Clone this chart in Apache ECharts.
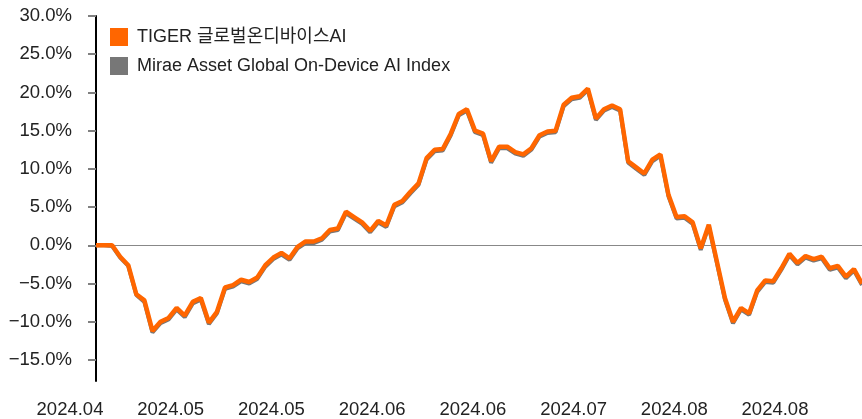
<!DOCTYPE html>
<html>
<head>
<meta charset="utf-8">
<script src="https://cdn.jsdelivr.net/npm/echarts@6/dist/echarts.min.js"></script>
<style>
  html, body { margin: 0; padding: 0; background: #fff; }
  #chart { width: 862px; height: 419px; }
</style>
</head>
<body>
<div id="chart"></div>
<script>
// 수익률 (%) - TIGER ETF vs 기초지수
var tigerValues = [0.0, 0.0, 0.0, -1.5, -2.6, -6.4, -7.2, -11.2, -10.0, -9.5,
  -8.2, -9.2, -7.4, -6.9, -10.1, -8.7, -5.5, -5.2, -4.5, -4.8,
  -4.2, -2.6, -1.6, -1.0, -1.7, -0.2, 0.5, 0.5, 0.9, 2.0,
  2.2, 4.4, 3.7, 3.0, 1.9, 3.2, 2.6, 5.3, 5.8, 7.0,
  8.1, 11.4, 12.5, 12.6, 14.6, 17.2, 17.8, 15.0, 14.6, 11.0,
  12.9, 12.9, 12.2, 11.9, 12.7, 14.4, 14.9, 15.0, 18.4, 19.3,
  19.5, 20.5, 16.6, 17.8, 18.3, 17.8, 11.0, 10.2, 9.4, 11.2,
  11.9, 6.6, 3.7, 3.8, 3.0, -0.4, 2.7, -2.1, -6.9, -10.0,
  -8.2, -8.9, -5.9, -4.6, -4.7, -3.0, -1.1, -2.3, -1.4, -1.8,
  -1.5, -3.0, -2.7, -4.1, -3.1, -5.0];

var indexValues = [0.0, 0.0, -0.1, -1.6, -2.7, -6.5, -7.4, -11.4, -10.2, -9.7,
  -8.4, -9.4, -7.6, -7.1, -10.3, -8.9, -5.7, -5.4, -4.7, -5.0,
  -4.4, -2.8, -1.8, -1.2, -1.9, -0.4, 0.3, 0.3, 0.7, 1.8,
  2.0, 4.2, 3.5, 2.8, 1.7, 3.0, 2.4, 5.1, 5.6, 6.8,
  7.9, 11.2, 12.3, 12.4, 14.4, 17.0, 17.6, 14.8, 14.4, 10.8,
  12.7, 12.7, 12.0, 11.7, 12.5, 14.2, 14.7, 14.8, 18.2, 19.1,
  19.3, 20.3, 16.4, 17.6, 18.1, 17.6, 10.8, 10.0, 9.2, 11.0,
  11.7, 6.4, 3.5, 3.6, 2.8, -0.6, 2.5, -2.3, -7.1, -10.2,
  -8.4, -9.1, -6.1, -4.8, -4.9, -3.2, -1.3, -2.5, -1.6, -2.0,
  -1.7, -3.2, -2.9, -4.3, -3.3, -5.2];

var dateLabels = ['2024.04', '2024.05', '2024.05', '2024.06', '2024.06', '2024.07', '2024.08', '2024.08'];
var yTicks = [30, 25, 20, 15, 10, 5, 0, -5, -10, -15];

var seriesNames = ['TIGER 글로벌온디바이스AI', 'Mirae Asset Global On-Device AI Index'];

// 거래일 인덱스 (축 라벨은 별도 축으로 표시)
var days = [];
for (var i = 0; i < tigerValues.length; i++) {
  days.push(String(i + 1));
}

var font = 'Arial, "Liberation Sans", "Noto Sans CJK KR", sans-serif';

var chart = echarts.init(document.getElementById('chart'));

var option = {
  animation: false,
  backgroundColor: '#fff',
  textStyle: { fontFamily: font },
  legend: {
    orient: 'vertical',
    left: 110,
    top: 28,
    padding: 0,
    itemWidth: 18,
    itemHeight: 18,
    itemGap: 11,
    icon: 'rect',
    data: [
      { name: seriesNames[0], itemStyle: { color: '#ff6600' } },
      { name: seriesNames[1], itemStyle: { color: '#777777' } }
    ],
    textStyle: { fontSize: 18, color: '#222', fontFamily: font, padding: [0, 0, 0, 4] }
  },
  grid: [
    { left: 96, right: 0, top: 16, bottom: 38 },
    { left: 70, right: 87, top: 16, bottom: 38 }
  ],
  xAxis: [
    {
      type: 'category',
      gridIndex: 0,
      position: 'top',
      data: days,
      boundaryGap: false,
      axisLine: { onZero: true, lineStyle: { color: '#888', width: 1 } },
      axisTick: { show: false },
      axisLabel: { show: false },
      splitLine: { show: false }
    },
    {
      type: 'category',
      gridIndex: 1,
      position: 'bottom',
      data: dateLabels,
      boundaryGap: false,
      axisLine: { show: false },
      axisTick: { show: false },
      axisLabel: { interval: 0, margin: 21, fontSize: 18.5, color: '#222', fontFamily: font },
      splitLine: { show: false }
    }
  ],
  yAxis: [
    {
      type: 'value',
      gridIndex: 0,
      min: -17.75,
      max: 30,
      axisLine: { show: true, onZero: false, lineStyle: { color: '#000', width: 2 } },
      axisTick: { show: true, length: 8, customValues: yTicks, lineStyle: { color: '#808080', width: 2 } },
      axisLabel: {
        customValues: yTicks,
        margin: 24,
        fontSize: 18.5,
        color: '#222',
        fontFamily: font,
        formatter: function (v) {
          return v.toFixed(1).replace('-', '\u2212') + '%';
        }
      },
      splitLine: { show: false }
    },
    {
      type: 'value',
      gridIndex: 1,
      show: false
    }
  ],
  series: [
    {
      name: seriesNames[1],
      type: 'line',
      xAxisIndex: 0,
      yAxisIndex: 0,
      data: indexValues,
      symbol: 'none',
      lineStyle: { color: '#777777', width: 4 },
      itemStyle: { color: '#777777' },
      z: 2
    },
    {
      name: seriesNames[0],
      type: 'line',
      xAxisIndex: 0,
      yAxisIndex: 0,
      data: tigerValues,
      symbol: 'none',
      lineStyle: { color: '#ff6600', width: 4.5 },
      itemStyle: { color: '#ff6600' },
      z: 3
    }
  ]
};

chart.setOption(option);
</script>
</body>
</html>
